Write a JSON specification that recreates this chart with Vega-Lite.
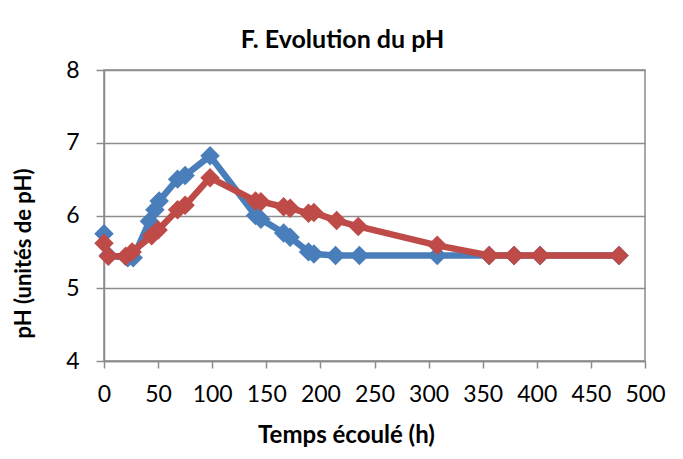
{
  "$schema": "https://vega.github.io/schema/vega-lite/v6.json",
  "autosize": "none",
  "width": 541,
  "height": 291,
  "padding": {"left": 104, "top": 70, "right": 38, "bottom": 98},
  "background": "white",
  "config": {
    "font": "Lato",
    "view": {"stroke": "#8c8c8c", "strokeWidth": 1.5},
    "axis": {
      "labelFont": "Lato",
      "labelFontSize": 23,
      "labelColor": "#000000",
      "titleFont": "Lato",
      "titleFontWeight": "bold",
      "titleColor": "#000000",
      "domainColor": "#8c8c8c",
      "domainWidth": 1.5,
      "tickColor": "#8c8c8c",
      "tickWidth": 1.5,
      "gridColor": "#8c8c8c",
      "gridWidth": 1.5
    }
  },
  "title": {
    "text": "F. Evolution du pH",
    "font": "Lato",
    "fontSize": 25,
    "fontWeight": "bold",
    "color": "#000000",
    "anchor": "middle",
    "frame": "group",
    "dx": -32,
    "offset": 6
  },
  "data": {
    "values": [
      {"serie": "A", "t": 0, "ph": 5.75},
      {"serie": "A", "t": 4, "ph": 5.45},
      {"serie": "A", "t": 22, "ph": 5.42},
      {"serie": "A", "t": 27, "ph": 5.42},
      {"serie": "A", "t": 42, "ph": 5.92},
      {"serie": "A", "t": 47, "ph": 6.08},
      {"serie": "A", "t": 51, "ph": 6.2},
      {"serie": "A", "t": 68, "ph": 6.5},
      {"serie": "A", "t": 75, "ph": 6.55},
      {"serie": "A", "t": 98, "ph": 6.82},
      {"serie": "A", "t": 140, "ph": 6.0},
      {"serie": "A", "t": 145, "ph": 5.95},
      {"serie": "A", "t": 166, "ph": 5.76},
      {"serie": "A", "t": 172, "ph": 5.7},
      {"serie": "A", "t": 189, "ph": 5.5},
      {"serie": "A", "t": 194, "ph": 5.47},
      {"serie": "A", "t": 214, "ph": 5.45},
      {"serie": "A", "t": 236, "ph": 5.45},
      {"serie": "A", "t": 308, "ph": 5.45},
      {"serie": "A", "t": 356, "ph": 5.45},
      {"serie": "A", "t": 379, "ph": 5.45},
      {"serie": "A", "t": 403, "ph": 5.45},
      {"serie": "A", "t": 476, "ph": 5.45},
      {"serie": "B", "t": 0, "ph": 5.62},
      {"serie": "B", "t": 4, "ph": 5.44},
      {"serie": "B", "t": 20, "ph": 5.44},
      {"serie": "B", "t": 26, "ph": 5.5},
      {"serie": "B", "t": 44, "ph": 5.72},
      {"serie": "B", "t": 50, "ph": 5.8},
      {"serie": "B", "t": 68, "ph": 6.08},
      {"serie": "B", "t": 75, "ph": 6.14},
      {"serie": "B", "t": 98, "ph": 6.52},
      {"serie": "B", "t": 140, "ph": 6.2},
      {"serie": "B", "t": 145, "ph": 6.19},
      {"serie": "B", "t": 166, "ph": 6.12},
      {"serie": "B", "t": 172, "ph": 6.1},
      {"serie": "B", "t": 189, "ph": 6.03},
      {"serie": "B", "t": 194, "ph": 6.04},
      {"serie": "B", "t": 215, "ph": 5.93},
      {"serie": "B", "t": 235, "ph": 5.85},
      {"serie": "B", "t": 308, "ph": 5.59},
      {"serie": "B", "t": 356, "ph": 5.45},
      {"serie": "B", "t": 379, "ph": 5.45},
      {"serie": "B", "t": 403, "ph": 5.45},
      {"serie": "B", "t": 476, "ph": 5.45}
    ]
  },
  "encoding": {
    "x": {
      "field": "t",
      "type": "quantitative",
      "scale": {"domain": [0, 500], "nice": false, "zero": false},
      "axis": {
        "title": "Temps écoulé (h)",
        "titleFontSize": 24,
        "values": [0, 50, 100, 150, 200, 250, 300, 350, 400, 450, 500],
        "grid": false,
        "tickSize": 7,
        "labelPadding": 15,
        "labelFlush": false,
        "titleX": 242,
        "titleY": 74,
        "titleAnchor": null,
        "titleAlign": "center",
        "titleBaseline": "middle"
      }
    },
    "y": {
      "field": "ph",
      "type": "quantitative",
      "scale": {"domain": [4, 8], "nice": false, "zero": false},
      "axis": {
        "title": "pH (unités de pH)",
        "titleFontSize": 22,
        "values": [4, 5, 6, 7, 8],
        "grid": true,
        "tickSize": 8,
        "labelPadding": 17,
        "labelFlush": false,
        "titleX": -81,
        "titleY": 183,
        "titleAngle": -90,
        "titleAlign": "center",
        "titleBaseline": "middle"
      }
    }
  },
  "layer": [
    {
      "transform": [{"filter": "datum.serie === 'A'"}],
      "mark": {"type": "line", "color": "#4a7ebb", "strokeWidth": 6.5, "strokeJoin": "round"}
    },
    {
      "transform": [{"filter": "datum.serie === 'A'"}],
      "mark": {"type": "point", "shape": "diamond", "filled": true, "opacity": 1, "color": "#4a7ebb", "size": 380}
    },
    {
      "transform": [{"filter": "datum.serie === 'B'"}],
      "mark": {"type": "line", "color": "#be4b48", "strokeWidth": 6.5, "strokeJoin": "round"}
    },
    {
      "transform": [{"filter": "datum.serie === 'B'"}],
      "mark": {"type": "point", "shape": "diamond", "filled": true, "opacity": 1, "color": "#be4b48", "size": 380}
    }
  ]
}
